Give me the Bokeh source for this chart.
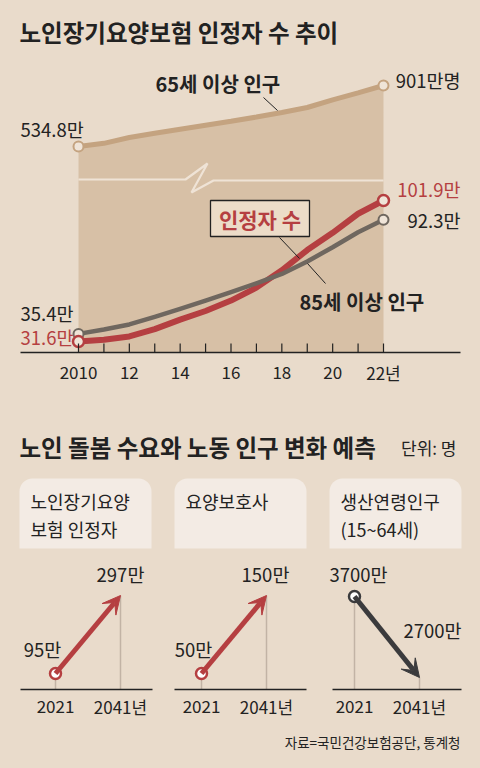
from bokeh.plotting import figure
from bokeh.models import Range1d, Arrow, VeeHead, BoxAnnotation
from bokeh.core.properties import value
from bokeh.embed import file_html
from bokeh.resources import INLINE

# ---------------- data ----------------
years = list(range(2010, 2023))
pop65 = [534.8, 553.7, 589.0, 613.8, 638.5, 662.4, 686.3, 711.5, 738.9, 769.0, 815.2, 857.1, 901.0]
certified = [31.6, 32.5, 34.1, 37.8, 42.5, 46.8, 52.0, 58.5, 67.1, 77.2, 85.8, 95.3, 101.9]
pop85 = [35.4, 37.6, 40.1, 43.9, 47.9, 52.0, 56.2, 60.6, 65.3, 71.5, 78.6, 86.1, 92.3]
tick_years = [2010, 2012, 2014, 2016, 2018, 2020, 2022]
tick_labels = ["2010", "12", "14", "16", "18", "20", "22년"]

title_top = "노인장기요양보험 인정자 수 추이"
title_bottom = "노인 돌봄 수요와 노동 인구 변화 예측"
unit_text = "단위: 명"
source_text = "자료=국민건강보험공단, 통계청"

panel_years = [2021, 2041]
panel_year_labels = ["2021", "2041년"]
panel_titles = [["노인장기요양", "보험 인정자"], ["요양보호사"], ["생산연령인구", "(15~64세)"]]
panel_values = [[95, 297], [50, 150], [3700, 2700]]
panel_value_labels = [["95만", "297만"], ["50만", "150만"], ["3700만", "2700만"]]

# ---------------- styles ----------------
BG = "#e9dbcb"
AREA = "#d7c0a6"
TAN = "#c4a380"
RED = "#b53f41"
GRAY = "#6f675f"
DARK = "#222222"
BOX = "#f3ebe4"
LABELBOX = "#ecdcc8"
VLINE = "#c2b3a5"
ARROWDARK = "#3b3b3d"
KFONT = value("Noto Sans CJK KR")
NFONT = value("Noto Sans CJK KR")

# frame in picture-pixel coordinates
FX0, FX1 = 0, 464
FY_TOP, FY_BOT = 0, 752


def lin(v0, p0, v1, p1):
    k = (v1 - v0) / (p1 - p0)
    return lambda p: v0 + (p - p0) * k


def xr(v0, p0, v1, p1):
    f = lin(v0, p0, v1, p1)
    return Range1d(f(FX0), f(FX1))


def yr(v0, p0, v1, p1):
    f = lin(v0, p0, v1, p1)
    return Range1d(f(FY_BOT), f(FY_TOP))


p = figure(width=464, height=752, x_range=Range1d(FX0, FX1), y_range=Range1d(FY_BOT, FY_TOP),
           x_axis_type=None, y_axis_type=None, toolbar_location=None, output_backend="svg",
           min_border=0, background_fill_color=BG, border_fill_color=BG, outline_line_color=None)
p.grid.visible = False

# top chart scales
X2010, X2022 = 78, 383
AXIS_Y = 352
p.extra_x_ranges["yr"] = xr(years[0], X2010, years[-1], X2022)
p.extra_y_ranges["lo"] = yr(certified[0], 341, certified[-1], 200)
p.extra_y_ranges["up"] = yr(pop65[0], 146, pop65[-1], 85)
up_at = lin(pop65[0], 146, pop65[-1], 85)
lo_at = lin(certified[0], 341, certified[-1], 200)

# panel scales
panel_x_px = [(55, 120), (201, 266), (354, 419)]
panel_y_px = [(673, 595), (673, 595), (596, 677)]
PAXIS_Y = 689
panel_axis_px = [(20, 152), (174, 306), (332, 461)]
panel_box_px = [(19, 151), (174, 306), (329, 461)]
panel_base = []
for i in range(3):
    (xa, xb), (ya, yb) = panel_x_px[i], panel_y_px[i]
    v = panel_values[i]
    p.extra_x_ranges[f"px{i}"] = xr(panel_years[0], xa, panel_years[1], xb)
    p.extra_y_ranges[f"py{i}"] = yr(v[0], ya, v[1], yb)
    panel_base.append(lin(v[0], ya, v[1], yb)(PAXIS_Y))

# ---------------- titles ----------------
p.text(x=[19], y=[31], text=[title_top], text_font=KFONT, text_font_size="23.5px",
       text_font_style="bold", text_color=DARK, text_baseline="middle")

# ---------------- top chart ----------------
p.varea(x=years, y1=[up_at(AXIS_Y)] * len(years), y2=pop65, fill_color=AREA,
        x_range_name="yr", y_range_name="up")
# scale break mark
p.line(x=[X2010, 185, 207, 191, 213, X2022], y=[179, 179, 163, 192, 180, 180],
       line_color="#efe3d6", line_width=2.2)

p.line(years, pop65, line_color=TAN, line_width=5, line_cap="round",
       x_range_name="yr", y_range_name="up")
p.scatter([years[0], years[-1]], [pop65[0], pop65[-1]], size=10, fill_color="#efe4d8",
          line_color=TAN, line_width=2, x_range_name="yr", y_range_name="up")

p.line(years, certified, line_color=RED, line_width=6, line_cap="round", line_join="round",
       x_range_name="yr", y_range_name="lo")
p.line(years, pop85, line_color=GRAY, line_width=4.5, line_cap="round", line_join="round",
       x_range_name="yr", y_range_name="lo")
p.scatter([years[0], years[-1]], [pop85[0], pop85[-1]], size=10, fill_color="#efe4d8",
          line_color=GRAY, line_width=2, x_range_name="yr", y_range_name="lo")
p.scatter([years[0], years[-1]], [certified[0], certified[-1]], size=11, fill_color="#efe4d8",
          line_color=RED, line_width=2.5, x_range_name="yr", y_range_name="lo")

# x axis of top chart
p.segment(x0=[20], y0=[AXIS_Y], x1=[460], y1=[AXIS_Y], line_color=DARK, line_width=1.5)
p.segment(x0=years, y0=[lo_at(AXIS_Y)] * len(years), x1=years, y1=[lo_at(AXIS_Y - 9)] * len(years),
          line_color=DARK, line_width=1.2, x_range_name="yr", y_range_name="lo")
p.text(x=tick_years, y=[lo_at(372)] * len(tick_years), text=tick_labels, text_font=NFONT,
       text_font_size="17px", text_color=DARK, text_align="center", text_baseline="middle",
       x_range_name="yr", y_range_name="lo")

# value labels
p.text(x=[20], y=[128], text=[f"{pop65[0]}만"], text_font=NFONT, text_font_size="18.5px",
       text_color=DARK, text_baseline="middle")
p.text(x=[460], y=[79], text=[f"{pop65[-1]:.0f}만명"], text_font=NFONT, text_font_size="18.5px",
       text_color=DARK, text_align="right", text_baseline="middle")
p.text(x=[460], y=[188], text=[f"{certified[-1]}만"], text_font=NFONT, text_font_size="18.5px",
       text_color=RED, text_align="right", text_baseline="middle")
p.text(x=[460], y=[219], text=[f"{pop85[-1]}만"], text_font=NFONT, text_font_size="18.5px",
       text_color=DARK, text_align="right", text_baseline="middle")
p.text(x=[20], y=[312], text=[f"{pop85[0]}만"], text_font=NFONT, text_font_size="18.5px",
       text_color=DARK, text_baseline="middle")
p.text(x=[20], y=[336], text=[f"{certified[0]}만"], text_font=NFONT, text_font_size="18.5px",
       text_color=RED, text_baseline="middle")

# series name labels + leaders
p.text(x=[155], y=[83], text=["65세 이상 인구"], text_font=KFONT, text_font_size="20px",
       text_font_style="bold", text_color=DARK, text_baseline="middle")
p.segment(x0=[263], y0=[97], x1=[277], y1=[110], line_color=DARK, line_width=1)
p.quad(left=[210], right=[309], top=[200], bottom=[236], fill_color=LABELBOX,
       line_color=DARK, line_width=1.3)
p.text(x=[259.5], y=[218], text=["인정자 수"], text_font=KFONT, text_font_size="21px",
       text_font_style="bold", text_color=RED, text_align="center", text_baseline="middle")
p.segment(x0=[279], y0=[237], x1=[299], y1=[258], line_color=DARK, line_width=1)
p.text(x=[299], y=[301], text=["85세 이상 인구"], text_font=KFONT, text_font_size="20px",
       text_font_style="bold", text_color=DARK, text_baseline="middle")
p.segment(x0=[307], y0=[263], x1=[325], y1=[283], line_color=DARK, line_width=1)

# ---------------- bottom section ----------------
p.text(x=[19], y=[446], text=[title_bottom], text_font=KFONT, text_font_size="23.5px",
       text_font_style="bold", text_color=DARK, text_baseline="middle")
p.text(x=[456], y=[447], text=[unit_text], text_font=KFONT, text_font_size="17px",
       text_color=DARK, text_align="right", text_baseline="middle")

for i in range(3):
    bl, br = panel_box_px[i]
    p.add_layout(BoxAnnotation(left=bl, right=br, top=478, bottom=548, fill_color=BOX,
                               fill_alpha=1, line_color=None, border_radius=(13, 13, 0, 0),
                               level="underlay"))
    p.text(x=[bl + 11] * len(panel_titles[i]), y=[500, 528][:len(panel_titles[i])],
           text=panel_titles[i], text_font=KFONT, text_font_size="18px", text_color=DARK,
           text_baseline="middle")

    xn, yn = f"px{i}", f"py{i}"
    v = panel_values[i]
    base = panel_base[i]
    ax0, ax1 = panel_axis_px[i]
    p.segment(x0=panel_years, y0=v, x1=panel_years, y1=[base, base], line_color=VLINE,
              line_width=1.5, x_range_name=xn, y_range_name=yn)
    p.segment(x0=[ax0], y0=[PAXIS_Y], x1=[ax1], y1=[PAXIS_Y], line_color=DARK, line_width=1.5)
    col = RED if v[1] > v[0] else ARROWDARK
    p.add_layout(Arrow(x_start=panel_years[0], y_start=v[0], x_end=panel_years[1], y_end=v[1],
                       x_range_name=xn, y_range_name=yn, line_color=col, line_width=5,
                       end=VeeHead(size=18, fill_color=col, line_color=col, line_width=1)))
    p.scatter([panel_years[0]], [v[0]], size=11, fill_color="white", line_color=col,
              line_width=2.5, x_range_name=xn, y_range_name=yn)
    p.text(x=panel_years, y=[base, base], text=panel_year_labels, text_font=NFONT,
           text_font_size="17px", text_color=DARK, text_align="center", text_baseline="middle",
           y_offset=17, x_range_name=xn, y_range_name=yn)

# value labels for panels (layout positions)
val_pos = [[(42, 648), (120, 573)], [(193, 648), (265, 573)], [(358, 573), (432, 629)]]
for i in range(3):
    for j in range(2):
        x, y = val_pos[i][j]
        p.text(x=[x], y=[y], text=[panel_value_labels[i][j]], text_font=NFONT,
               text_font_size="18.5px", text_color=DARK, text_align="center", text_baseline="middle")

p.text(x=[460], y=[741], text=[source_text], text_font=KFONT, text_font_size="13.5px",
       text_color=DARK, text_align="right", text_baseline="middle")

html = file_html(p, INLINE)
html = html.replace("</head>", f"<style>body{{background:{BG};}}</style></head>", 1)
open("out.html", "w").write(html)
